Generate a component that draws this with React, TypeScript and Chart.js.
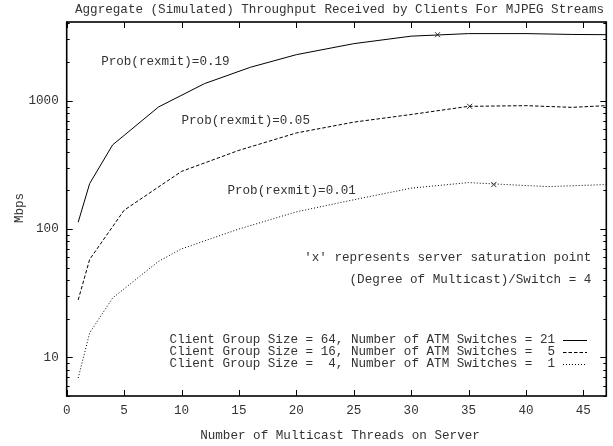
import React, { useEffect, useRef } from 'react';
import { Chart, registerables } from 'chart.js';
Chart.register(...registerables);

// ---- data ----
const threads19 = [1, 2, 4, 8, 12, 16, 20, 25, 30, 35, 40, 44, 47];
const mbps19 = [113, 226, 452, 893, 1357, 1820, 2281, 2780, 3180, 3330, 3330, 3280, 3266];
const threads05 = [1, 2, 5, 10, 15, 20, 25, 30, 35, 40, 44, 47];
const mbps05 = [28, 58, 140, 281, 410, 560, 680, 780, 903, 914, 887, 914];
const threads01 = [1, 2, 4, 8, 10, 15, 20, 25, 30, 35, 40, 42, 47];
const mbps01 = [6.9, 15.5, 29, 56, 70, 100, 136, 169, 208, 230, 218, 214, 222];
const satThreads = [32.3, 35.1, 37.2];
const satMbps = [3266, 903, 222];

const seriesLabels = [
  'Client Group Size = 64, Number of ATM Switches = 21',
  'Client Group Size = 16, Number of ATM Switches =  5',
  'Client Group Size =  4, Number of ATM Switches =  1',
];
const probLabels = ['Prob(rexmit)=0.19', 'Prob(rexmit)=0.05', 'Prob(rexmit)=0.01'];
const probLabelX = [3, 10, 14];
const probLabelY = [2000, 700, 200];
const noteLines = ["'x' represents server saturation point", '(Degree of Multicast)/Switch = 4'];
const noteY = [60, 40];
const xTicks = [0, 5, 10, 15, 20, 25, 30, 35, 40, 45];
const yTicks = [10, 100, 1000];
const titleText = 'Aggregate (Simulated) Throughput Received by Clients For MJPEG Streams';
const xTitle = 'Number of Multicast Threads on Server';
const yTitle = 'Mbps';

const FONT = "'Liberation Mono', 'DejaVu Sans Mono', monospace";
const FSIZE = 12.6;
const TXT = '#333';
const dashes: number[][] = [[], [3.5, 2], [1, 2]];

const pts = (xs: number[], ys: number[]) => xs.map((x, i) => ({ x, y: ys[i] }));

const overlay = {
  id: 'overlay',
  afterDraw(chart: any) {
    const { ctx, chartArea: a } = chart;
    const xs = chart.scales.x;
    const ys = chart.scales.y;
    ctx.save();
    ctx.strokeStyle = '#000';
    ctx.lineWidth = 1;
    // x ticks (inward, mirrored)
    ctx.beginPath();
    for (const v of xTicks) {
      const px = Math.round(xs.getPixelForValue(v)) + 0.5;
      ctx.moveTo(px, a.bottom);
      ctx.lineTo(px, a.bottom - 6);
      ctx.moveTo(px, a.top);
      ctx.lineTo(px, a.top + 6);
    }
    // y ticks major + minor
    for (let d = 1; d <= 1000; d *= 10) {
      for (let m = 1; m <= 9; m++) {
        const v = d * m;
        if (v < ys.min || v > ys.max) continue;
        const len = m === 1 ? 6 : 3;
        const py = Math.round(ys.getPixelForValue(v)) + 0.5;
        ctx.moveTo(a.left, py);
        ctx.lineTo(a.left + len, py);
        ctx.moveTo(a.right, py);
        ctx.lineTo(a.right - len, py);
      }
    }
    ctx.stroke();
    // border
    ctx.lineWidth = 1.6;
    ctx.strokeRect(a.left, a.top, a.right - a.left, a.bottom - a.top);

    ctx.font = `${FSIZE}px ${FONT}`;
    ctx.fillStyle = TXT;
    ctx.textBaseline = 'middle';
    // title
    ctx.textAlign = 'center';
    ctx.fillText(titleText, 339.5, 10);
    ctx.fillText(xTitle, 340, 435.5);
    ctx.save();
    ctx.translate(20, 208);
    ctx.rotate(-Math.PI / 2);
    ctx.fillText(yTitle, 0, 0);
    ctx.restore();
    // prob labels
    ctx.textAlign = 'left';
    probLabels.forEach((t, i) => {
      ctx.fillText(t, xs.getPixelForValue(probLabelX[i]), ys.getPixelForValue(probLabelY[i]));
    });
    // notes
    ctx.textAlign = 'right';
    noteLines.forEach((t, i) => {
      ctx.fillText(t, xs.getPixelForValue(45.7), ys.getPixelForValue(noteY[i]));
    });
    // legend
    const rowY = [339.5, 352, 364];
    seriesLabels.forEach((t, i) => {
      ctx.fillStyle = TXT;
      ctx.textAlign = 'right';
      ctx.fillText(t, 555, rowY[i]);
      ctx.beginPath();
      ctx.setLineDash(dashes[i]);
      ctx.lineWidth = 1;
      ctx.strokeStyle = '#000';
      ctx.moveTo(563, Math.round(rowY[i]) + 0.5);
      ctx.lineTo(587, Math.round(rowY[i]) + 0.5);
      ctx.stroke();
    });
    ctx.setLineDash([]);
    ctx.restore();
  },
};

export default function App() {
  const ref = useRef<HTMLCanvasElement>(null);
  useEffect(() => {
    const font = { family: FONT, size: FSIZE };
    const lineDs = (label: string, xs: number[], ys: number[], dash: number[]) => ({
      label,
      data: pts(xs, ys),
      borderColor: '#000',
      borderWidth: 1,
      borderDash: dash,
      pointRadius: 0,
      fill: false,
      tension: 0,
    });
    const chart = new Chart(ref.current!, {
      type: 'line',
      data: {
        datasets: [
          lineDs(seriesLabels[0], threads19, mbps19, dashes[0]),
          lineDs(seriesLabels[1], threads05, mbps05, dashes[1]),
          lineDs(seriesLabels[2], threads01, mbps01, dashes[2]),
          {
            label: 'saturation',
            data: pts(satThreads, satMbps),
            showLine: false,
            pointStyle: 'crossRot',
            pointRadius: 3.6,
            borderColor: '#333',
            borderWidth: 1,
          } as any,
        ],
      },
      options: {
        animation: false,
        responsive: false,
        maintainAspectRatio: false,
        layout: { padding: { left: 0, top: 22, right: 6.7, bottom: 0 } },
        plugins: { legend: { display: false }, tooltip: { enabled: false }, title: { display: false } },
        scales: {
          x: {
            type: 'linear',
            min: 0,
            max: 47,
            grid: { display: false, drawTicks: false },
            border: { display: false },
            ticks: { font, color: TXT, padding: 7, maxRotation: 0, autoSkip: false, callback: (v: any) => String(v) },
            afterBuildTicks: (s: any) => {
              s.ticks = xTicks.map((value) => ({ value }));
            },
            afterFit: (s: any) => {
              s.height = 50;
            },
          },
          y: {
            type: 'logarithmic',
            min: 5,
            max: 4100,
            grid: { display: false, drawTicks: false },
            border: { display: false },
            ticks: { font, color: TXT, padding: 8, autoSkip: false, callback: (v: any) => String(v) },
            afterBuildTicks: (s: any) => {
              s.ticks = yTicks.map((value) => ({ value }));
            },
            afterFit: (s: any) => {
              s.width = 66.7;
            },
          },
        },
      },
      plugins: [overlay],
    } as any);
    return () => chart.destroy();
  }, []);
  return (
    <div style={{ position: 'fixed', left: 0, top: 0, width: 613, height: 446, background: '#fff' }}>
      <canvas ref={ref} width={613} height={446} style={{ display: 'block' }} />
    </div>
  );
}
